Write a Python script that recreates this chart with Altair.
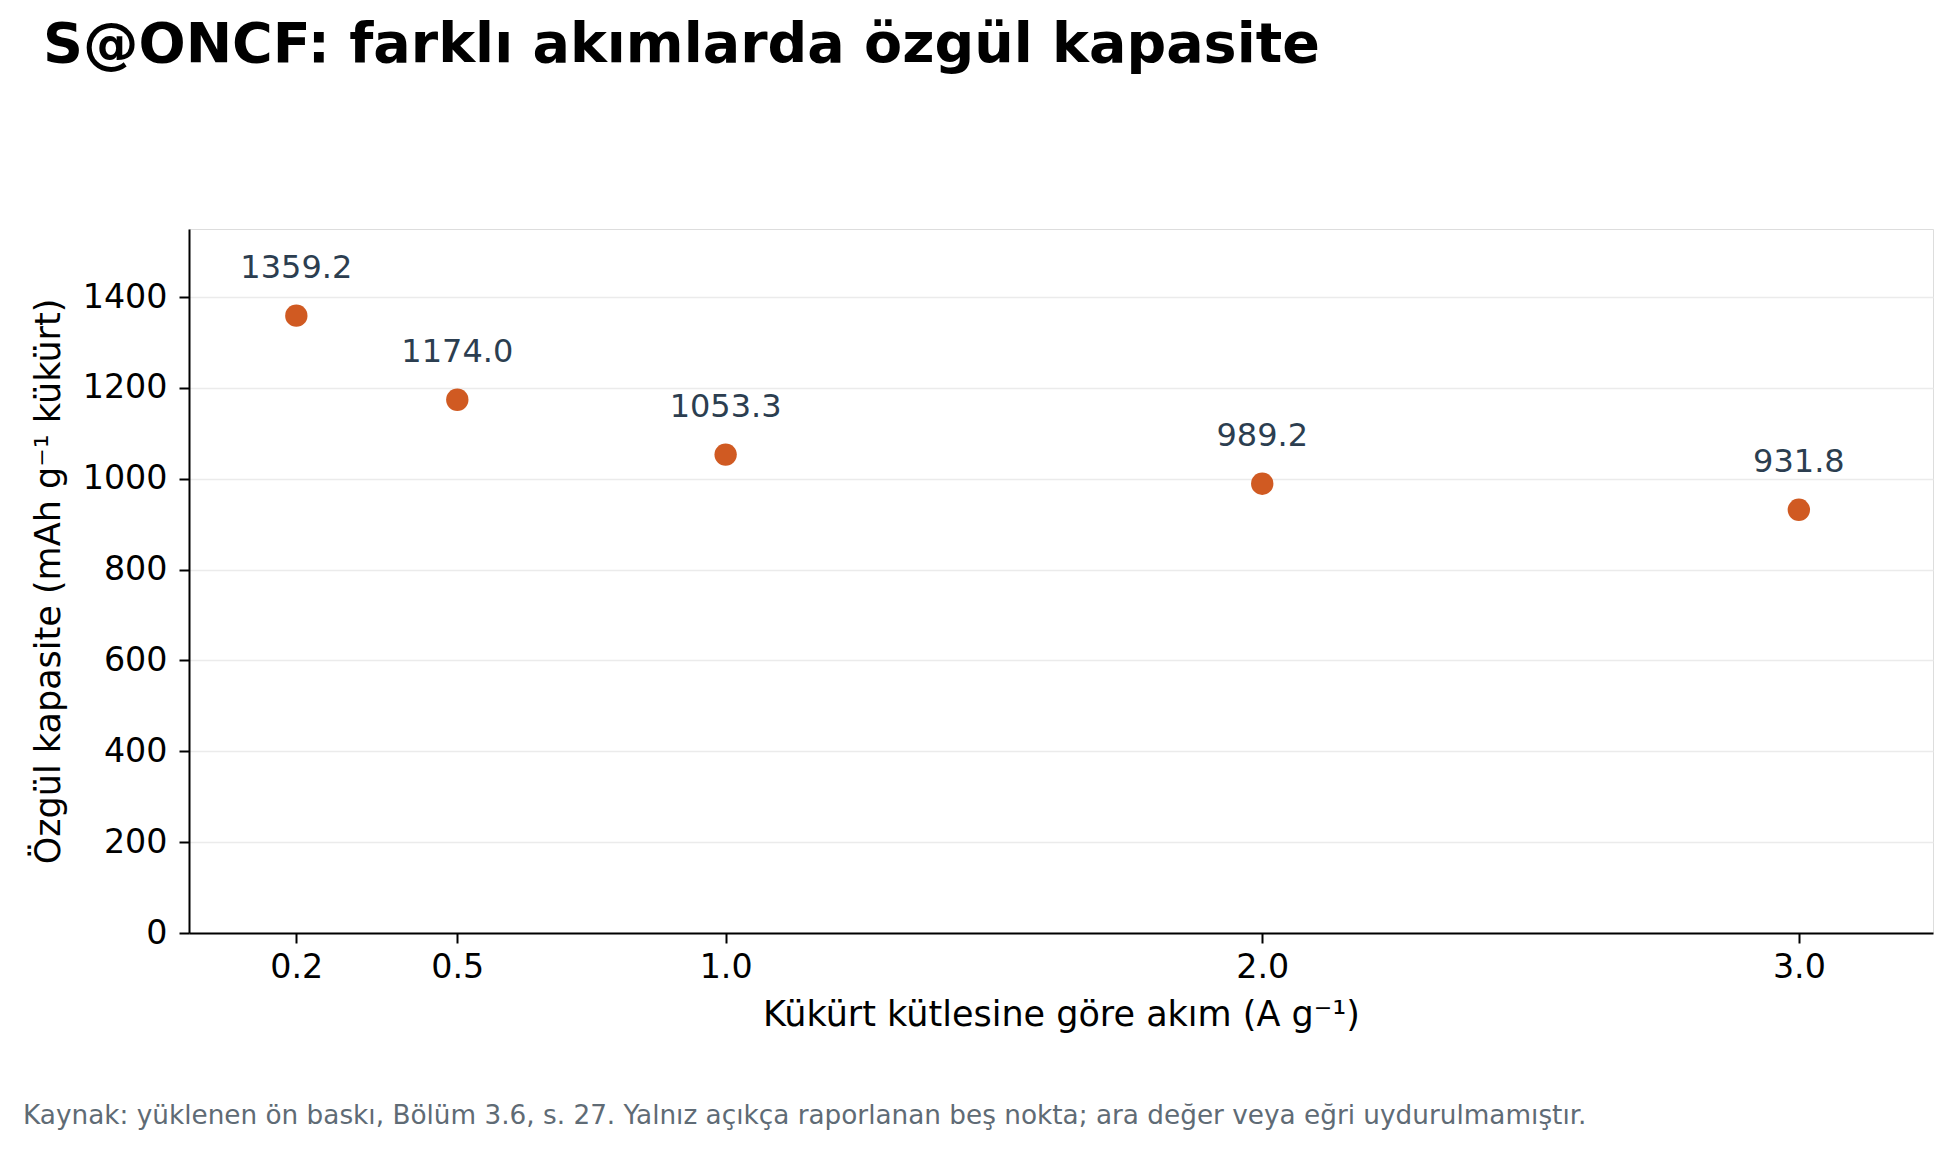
import altair as alt
import pandas as pd

currents = [0.2, 0.5, 1.0, 2.0, 3.0]
capacities = [1359.2, 1174.0, 1053.3, 989.2, 931.8]
x_ticks = [0.2, 0.5, 1.0, 2.0, 3.0]
y_ticks = [0, 200, 400, 600, 800, 1000, 1200, 1400]

TITLE = "S@ONCF: farklı akımlarda özgül kapasite"
X_TITLE = "Kükürt kütlesine göre akım (A g⁻¹)"
Y_TITLE = "Özgül kapasite (mAh g⁻¹ kükürt)"
FOOTNOTE = ("Kaynak: yüklenen ön baskı, Bölüm 3.6, s. 27. Yalnız açıkça raporlanan beş nokta; "
            "ara değer veya eğri uydurulmamıştır.")

FONT = "DejaVu Sans"
W, H = 1744, 704

df = pd.DataFrame({"current": currents, "capacity": capacities})
df["label"] = [f"{v:.1f}" for v in capacities]

x_enc = alt.X(
    "current:Q",
    scale=alt.Scale(domain=[0, 3.25], nice=False, zero=False),
    axis=alt.Axis(
        values=x_ticks, format=".1f", title=X_TITLE, grid=False,
        labelFontSize=33.3, labelColor="black", labelFont=FONT, labelPadding=8,
        tickSize=10, tickWidth=2, tickColor="black",
        domainColor="black", domainWidth=2,
        titleFontSize=35, titleFont=FONT, titleFontWeight="normal", titleColor="black",
        titleBaseline="alphabetic", titleY=92, labelFlush=False,
    ),
)
y_enc = alt.Y(
    "capacity:Q",
    scale=alt.Scale(domain=[0, 1550], nice=False),
    axis=alt.Axis(
        values=y_ticks, format="d", title=Y_TITLE, grid=True, gridColor="#ebebeb", gridWidth=1.5,
        labelFontSize=33.3, labelColor="black", labelFont=FONT, labelPadding=12,
        tickSize=10, tickWidth=2, tickColor="black",
        domainColor="black", domainWidth=2,
        titleFontSize=35, titleFont=FONT, titleFontWeight="normal", titleColor="black",
        titleX=-141, titleY=H / 2, titleAlign="center", titleBaseline="middle",
        labelFlush=False,
    ),
)

points = alt.Chart(df).mark_point(
    filled=True, size=500, opacity=1, color="#d05a22", shape="circle"
).encode(x=x_enc, y=y_enc)

labels = alt.Chart(df).mark_text(
    font=FONT, fontSize=32, color="#2c3e50", dy=-38, baseline="alphabetic", align="center"
).encode(x="current:Q", y="capacity:Q", text="label:N")

foot_df = pd.DataFrame({"note": [FOOTNOTE]})
footer = alt.Chart(foot_df).mark_text(
    font=FONT, fontSize=26.3, color="#5f6b75", align="left", baseline="alphabetic"
).encode(x=alt.value(-166), y=alt.value(895), text="note:N")

chart = alt.layer(points, labels, footer).properties(
    width=W, height=H,
    autosize=alt.AutoSizeParams(type="none"),
    padding={"left": 181, "top": 221, "right": 8, "bottom": 210},
    title=alt.TitleParams(
        TITLE, font=FONT, fontSize=55.5, fontWeight="bold", color="black",
        anchor="start", frame="group", dx=-146, offset=0, baseline="alphabetic", dy=-112,
    ),
).configure_view(stroke=None).configure(background="white")

chart.save("out.html", embed_options={"renderer": "svg", "actions": False})
